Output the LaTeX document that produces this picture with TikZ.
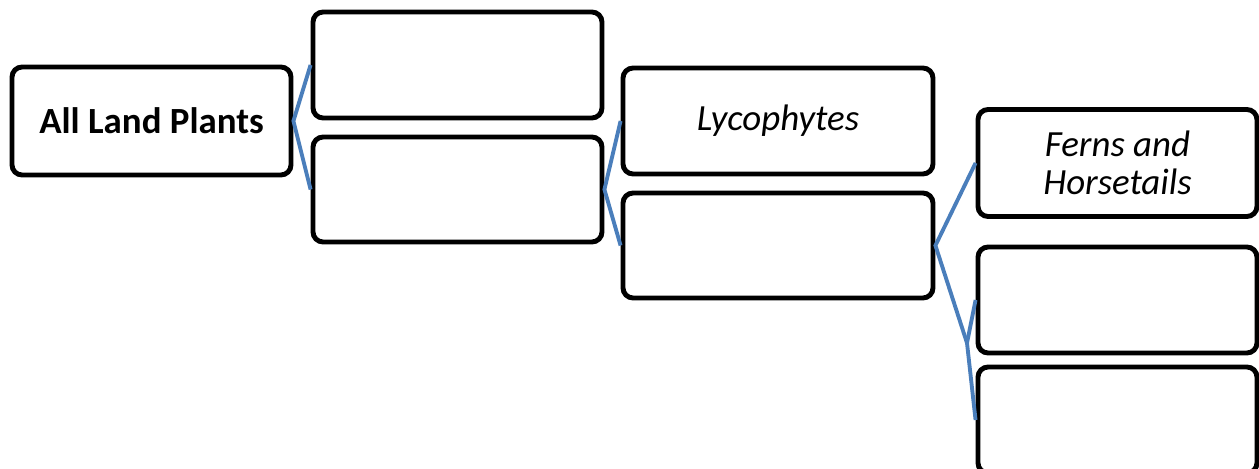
\documentclass[tikz,border=0pt]{standalone}
\usepackage{fontspec}
\setmainfont{Carlito}
\usepackage{tikz}
\usetikzlibrary{positioning}
\definecolor{linkblue}{HTML}{4A7EBB}

\begin{document}
\begin{tikzpicture}[x=0.02cm, y=-0.02cm,
    group/.style={rectangle, draw, rounded corners=0.2cm, line width=2.8pt, inner sep=0pt, align=center, font=\fontsize{21}{21.5}\selectfont},
    link/.style={draw=linkblue, line width=2.2pt}
]
    \useasboundingbox (0,0) rectangle (1259,469);

    \node[group, minimum width=5.58cm, minimum height=2.16cm] (plants) at (151.5,121) {\textbf{All Land Plants}};
    \node[group, minimum width=5.78cm, minimum height=2.12cm] (grpA) at (457.5,65) {};
    \node[group, minimum width=5.78cm, minimum height=2.10cm] (grpB) at (457.5,189.5) {};
    \node[group, minimum width=6.2cm, minimum height=2.12cm] (lyco) at (778,121) {\textit{Lycophytes}};
    \node[group, minimum width=6.2cm, minimum height=2.10cm] (grpC) at (778,245.5) {};
    \node[group, minimum width=5.58cm, minimum height=2.14cm] (ferns) at (1117.5,163) {\textit{Ferns and}\\\textit{Horsetails}};
    \node[group, minimum width=5.58cm, minimum height=2.12cm] (grpD) at (1117.5,300) {};
    \node[group, minimum width=5.58cm, minimum height=2.12cm] (grpE) at (1117.5,420) {};
    \coordinate (fork) at (967,343);

    \draw[link] (grpA.west) -- (plants.east) -- (grpB.west);
    \draw[link] (lyco.west) -- (grpB.east) -- (grpC.west);
    \draw[link] (ferns.west) -- (grpC.east) -- (fork);
    \draw[link] (grpD.west) -- (fork) -- (grpE.west);
\end{tikzpicture}
\end{document}
